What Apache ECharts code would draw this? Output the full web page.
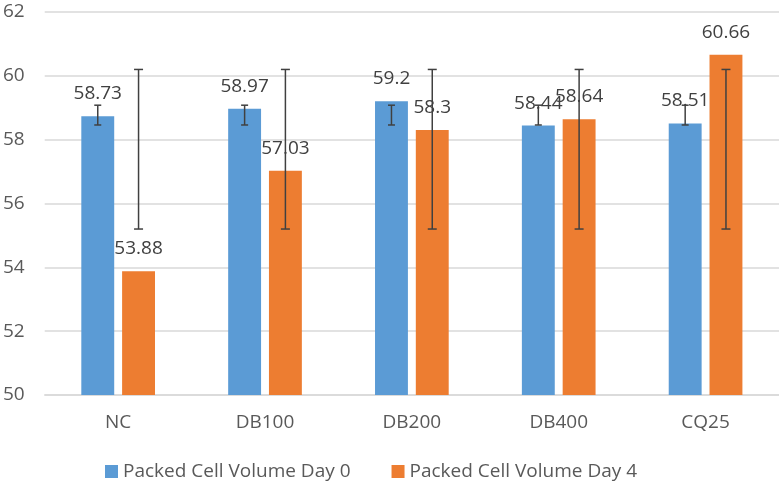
<!DOCTYPE html>
<html>
<head>
<meta charset="utf-8">
<script src="https://cdn.jsdelivr.net/npm/echarts@6/dist/echarts.min.js"></script>
<style>html,body{margin:0;padding:0;background:#fff;}#c{width:779px;height:482px;}</style>
</head>
<body>
<div id="c"></div>
<script>
const categories = ['NC', 'DB100', 'DB200', 'DB400', 'CQ25'];
const seriesNames = ['Packed Cell Volume Day 0', 'Packed Cell Volume Day 4'];
const day0 = [58.73, 58.97, 59.2, 58.44, 58.51];
const day4 = [53.88, 57.03, 58.3, 58.64, 60.66];
const day0ErrLow = [58.46, 58.46, 58.46, 58.46, 58.46];
const day0ErrHigh = [59.08, 59.08, 59.08, 59.08, 59.08];
const day4ErrLow = [55.2, 55.2, 55.2, 55.2, 55.2];
const day4ErrHigh = [60.2, 60.2, 60.2, 60.2, 60.2];
const yTicks = { min: 50, max: 62, interval: 2 };

const BAR_W = 0.224, BAR_GAP = 0.24;
const FONT = '"Open Sans", "Liberation Sans", sans-serif';
const TXT = '#595959';
const FS = 19;

function errSeries(low, high, side, capHalf) {
  return {
    type: 'custom',
    z: 10,
    silent: true,
    data: categories.map((c, i) => [i, low[i], high[i]]),
    encode: { x: 0, y: [1, 2] },
    renderItem: function (params, api) {
      const i = api.value(0);
      const band = api.size([1, 0])[0];
      const bw = band * BAR_W;
      const off = side * (bw + bw * BAR_GAP) / 2;
      const lo = api.coord([i, api.value(1)]);
      const hi = api.coord([i, api.value(2)]);
      const x = lo[0] + off;
      const st = { stroke: '#404040', lineWidth: 1.5 };
      return {
        type: 'group',
        children: [
          { type: 'line', shape: { x1: x, y1: hi[1], x2: x, y2: lo[1] }, style: st },
          { type: 'line', shape: { x1: x - capHalf, y1: hi[1], x2: x + capHalf, y2: hi[1] }, style: st },
          { type: 'line', shape: { x1: x - capHalf, y1: lo[1], x2: x + capHalf, y2: lo[1] }, style: st }
        ]
      };
    }
  };
}

const chart = echarts.init(document.getElementById('c'));
chart.setOption({
  animation: false,
  textStyle: { fontFamily: FONT },
  grid: { left: 42, right: 0, top: 12, bottom: 87, containLabel: false },
  legend: {
    left: 105, top: 462, padding: 0,
    itemWidth: 13, itemHeight: 13, itemGap: 41,
    icon: 'rect',
    data: seriesNames,
    textStyle: { color: TXT, fontSize: FS, fontFamily: FONT }
  },
  xAxis: {
    type: 'category',
    data: categories,
    axisLine: { lineStyle: { color: '#d9d9d9', width: 1.5 } },
    axisTick: { show: false },
    axisLabel: { color: TXT, fontSize: FS, margin: 18, fontFamily: FONT }
  },
  yAxis: {
    type: 'value',
    min: yTicks.min, max: yTicks.max, interval: yTicks.interval,
    axisLine: { show: false },
    axisTick: { show: false },
    splitLine: { lineStyle: { color: '#d9d9d9', width: 1.5 } },
    axisLabel: { color: TXT, fontSize: FS, margin: 20, fontFamily: FONT }
  },
  series: [
    {
      name: seriesNames[0], type: 'bar', data: day0,
      barWidth: (BAR_W * 100) + '%', barGap: (BAR_GAP * 100) + '%',
      itemStyle: { color: '#5B9BD5' },
      label: { show: true, position: 'top', distance: 13, color: '#404040', fontSize: FS, fontFamily: FONT }
    },
    {
      name: seriesNames[1], type: 'bar', data: day4,
      barWidth: (BAR_W * 100) + '%', barGap: (BAR_GAP * 100) + '%',
      itemStyle: { color: '#ED7D31' },
      label: { show: true, position: 'top', distance: 13, color: '#404040', fontSize: FS, fontFamily: FONT }
    },
    errSeries(day0ErrLow, day0ErrHigh, -1, 3.5),
    errSeries(day4ErrLow, day4ErrHigh, 1, 4.5)
  ]
});
</script>
</body>
</html>
